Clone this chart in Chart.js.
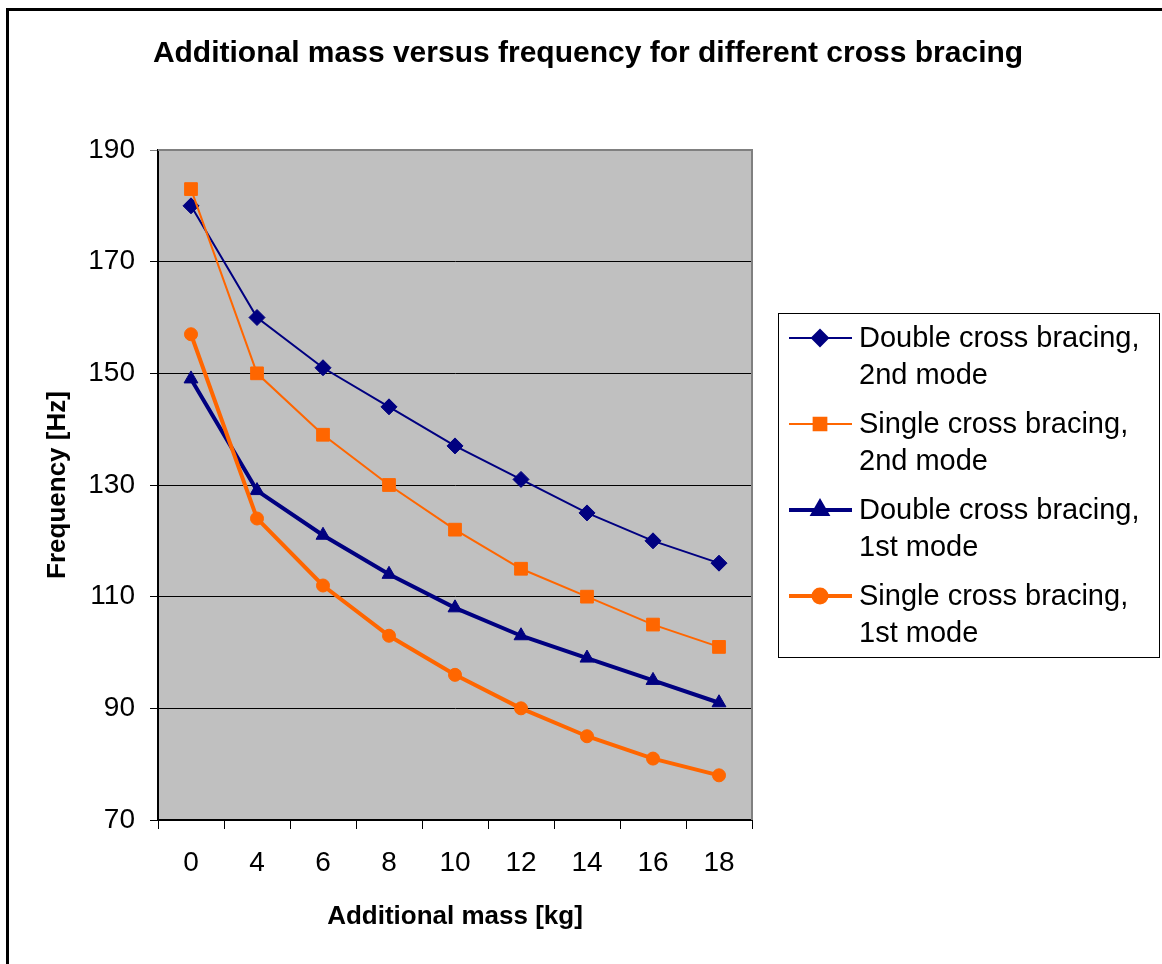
<!DOCTYPE html>
<html>
<head>
<meta charset="utf-8">
<script src="https://cdn.jsdelivr.net/npm/chart.js@4/dist/chart.umd.min.js"></script>
<style>
  html, body { margin: 0; padding: 0; background: #fff; }
  #wrap { position: relative; width: 1162px; height: 964px; }
</style>
</head>
<body>
<div id="wrap"><canvas id="chart" width="1162" height="964"></canvas></div>
<script>
const masses = ['0', '4', '6', '8', '10', '12', '14', '16', '18'];
const doubleSecond = [180, 160, 151, 144, 137, 131, 125, 120, 116];
const singleSecond = [183, 150, 139, 130, 122, 115, 110, 105, 101];
const doubleFirst = [149, 129, 121, 114, 108, 103, 99, 95, 91];
const singleFirst = [157, 124, 112, 103, 96, 90, 85, 81, 78];
const legendNames = [
    ['Double cross bracing,', '2nd mode'],
    ['Single cross bracing,', '2nd mode'],
    ['Double cross bracing,', '1st mode'],
    ['Single cross bracing,', '1st mode']
];
const chartTitle = 'Additional mass versus frequency for different cross bracing';

const NAVY = '#000080';
const ORANGE = '#FF6600';
const FONT = '"Liberation Sans", Arial, sans-serif';

// plot background, plot border, outer frame, title, legend
const excelLook = {
    id: 'excelLook',
    beforeDraw(chart) {
        const { ctx, chartArea: a } = chart;
        ctx.save();
        ctx.fillStyle = '#C0C0C0';
        ctx.fillRect(a.left, a.top, a.right - a.left, a.bottom - a.top);
        ctx.restore();
    },
    afterDraw(chart) {
        const { ctx, chartArea: a } = chart;
        ctx.save();
        // gray border top/right
        ctx.strokeStyle = '#808080';
        ctx.lineWidth = 2;
        ctx.beginPath();
        ctx.moveTo(a.left, a.top);
        ctx.lineTo(a.right, a.top);
        ctx.lineTo(a.right, a.bottom);
        ctx.stroke();

        // outer frame (top and left only visible)
        ctx.strokeStyle = '#000';
        ctx.lineWidth = 3;
        ctx.beginPath();
        ctx.moveTo(7.5, 964);
        ctx.lineTo(7.5, 9.5);
        ctx.lineTo(1162, 9.5);
        ctx.stroke();

        // title
        ctx.fillStyle = '#000';
        ctx.font = 'bold 30px ' + FONT;
        ctx.textAlign = 'center';
        ctx.textBaseline = 'middle';
        ctx.fillText(chartTitle, 588, 54);

        // legend box
        const lx = 778, ly = 313, lw = 381, lh = 344;
        ctx.fillStyle = '#fff';
        ctx.fillRect(lx, ly, lw, lh);
        ctx.strokeStyle = '#000';
        ctx.lineWidth = 1;
        ctx.strokeRect(lx + 0.5, ly + 0.5, lw, lh);

        ctx.font = '29px ' + FONT;
        ctx.textBaseline = 'middle';
        ctx.textAlign = 'left';
        chart.data.datasets.forEach((ds, i) => {
            const y = 338 + i * 86;
            ctx.strokeStyle = ds.borderColor;
            ctx.lineWidth = ds.borderWidth;
            ctx.beginPath();
            ctx.moveTo(789, y);
            ctx.lineTo(852, y);
            ctx.stroke();
            Chart.helpers.drawPoint(ctx, {
                pointStyle: ds.pointStyle,
                radius: ds.pointRadius,
                borderWidth: 1,
                rotation: 0
            }, 820, y);
            ctx.fillStyle = ds.borderColor;
            ctx.fill();
            ctx.fillStyle = '#000';
            ctx.fillText(legendNames[i][0], 859, y + 1);
            ctx.fillText(legendNames[i][1], 859, y + 38);
        });
        ctx.restore();
    }
};

function series(data, color, width, style, radius, order) {
    return {
        data: data,
        borderColor: color,
        backgroundColor: color,
        pointBackgroundColor: color,
        pointBorderColor: color,
        borderWidth: width,
        pointStyle: style,
        pointRadius: radius,
        pointBorderWidth: 1,
        tension: 0,
        order: order
    };
}

new Chart(document.getElementById('chart'), {
    type: 'line',
    data: {
        labels: masses,
        datasets: [
            series(doubleSecond, NAVY, 2, 'rectRot', 8, 4),
            series(singleSecond, ORANGE, 2, 'rect', 9, 3),
            series(doubleFirst, NAVY, 4, 'triangle', 8, 2),
            series(singleFirst, ORANGE, 4, 'circle', 6.5, 1)
        ]
    },
    options: {
        responsive: false,
        animation: false,
        layout: { padding: { top: 150, left: 40, right: 410, bottom: 20 } },
        plugins: {
            legend: { display: false },
            tooltip: { enabled: false },
            title: { display: false }
        },
        scales: {
            x: {
                offset: true,
                afterFit: (s) => { s.height = 124; },
                grid: {
                    offset: true,
                    drawOnChartArea: false,
                    color: '#000',
                    tickLength: 9
                },
                border: { color: '#000', width: 2 },
                ticks: {
                    color: '#000',
                    padding: 17,
                    font: { family: FONT, size: 28 },
                    maxRotation: 0
                },
                title: {
                    display: true,
                    text: 'Additional mass [kg]',
                    color: '#000',
                    font: { family: FONT, size: 26, weight: 'bold' },
                    padding: { top: 0, bottom: 12 }
                }
            },
            y: {
                min: 70,
                max: 190,
                afterFit: (s) => { s.width = 118; },
                grid: {
                    color: (c) => c.tick && c.tick.value === 190 ? '#808080' : '#000',
                    tickLength: 8,
                    lineWidth: 1
                },
                border: { color: '#000', width: 2 },
                ticks: {
                    stepSize: 20,
                    color: '#000',
                    padding: 15,
                    font: { family: FONT, size: 28 }
                },
                title: {
                    display: true,
                    text: 'Frequency [Hz]',
                    color: '#000',
                    font: { family: FONT, size: 26, weight: 'bold' },
                    padding: { top: 2, bottom: 0 }
                }
            }
        }
    },
    plugins: [excelLook]
});
</script>
</body>
</html>
